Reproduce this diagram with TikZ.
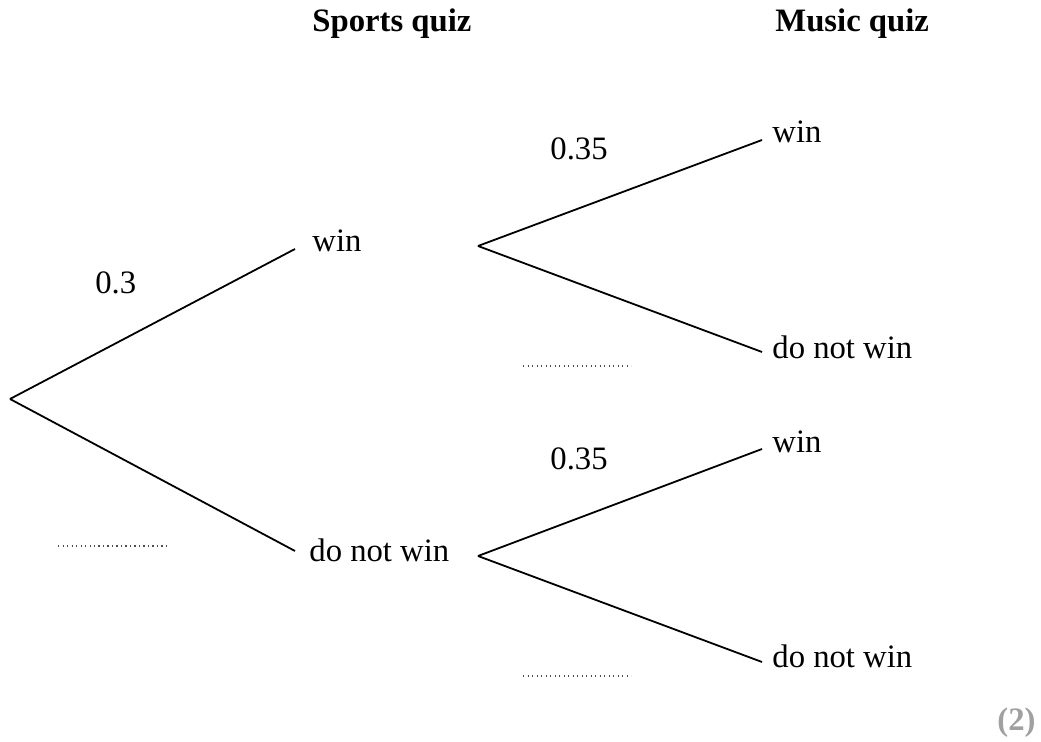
\documentclass[tikz,border=0pt]{standalone}
\usepackage{fontspec}
\setmainfont{Liberation Serif}
\usepackage{tikz}
\usetikzlibrary{positioning}
\definecolor{grey3}{HTML}{A0A0A0}
\tikzset{branchlbl/.style={font=\fontsize{16.35}{19}\selectfont,inner sep=0pt,anchor=base west}}
\tikzset{quizhead/.style={branchlbl,font=\fontsize{16.35}{19}\selectfont\bfseries}}
\tikzset{answerdots/.style={line width=0.6pt,dash pattern=on 0.6pt off 1.65pt,black!70}}

\begin{document}
\begin{tikzpicture}[x=0.5pt,y=-0.5pt]
        \useasboundingbox (0,0) rectangle (1041,742);

        \node[quizhead] (h_sport) at (312,32) {Sports quiz};
        \node[quizhead] (h_music) at (775,32) {Music quiz};

        % branch points
        \coordinate (root) at (10,399);
        \coordinate (s_win) at (295,249);
        \coordinate (s_lose) at (295,551);
        \coordinate (m_top) at (478,246);
        \coordinate (m_bot) at (478,556);
        \coordinate (m_ww) at (762,140);
        \coordinate (m_wl) at (762,352);
        \coordinate (m_lw) at (762,449);
        \coordinate (m_ll) at (762,662);

        \node[branchlbl] (win_s) at (312,252) {win};
        \node[branchlbl] (lose_s) at (309,562) {do not win};
        \node[branchlbl] (win_ww) at (772,143) {win};
        \node[branchlbl] (lose_wl) at (772,359) {do not win};
        \node[branchlbl] (win_lw) at (772,453) {win};
        \node[branchlbl] (lose_ll) at (772,668) {do not win};

        \node[branchlbl] (p_s) at (95,294) {0.3};
        \node[branchlbl] (p_ww) at (550,160) {0.35};
        \node[branchlbl] (p_lw) at (550,470) {0.35};

        \draw[line width=0.9pt] (root) to (s_win);
        \draw[line width=0.9pt] (root) to (s_lose);
        \draw[line width=0.9pt] (m_top) to (m_ww);
        \draw[line width=0.9pt] (m_top) to (m_wl);
        \draw[line width=0.9pt] (m_bot) to (m_lw);
        \draw[line width=0.9pt] (m_bot) to (m_ll);

        % spaces for the missing probabilities
        \draw[answerdots] (58,546) -- (167,546);
        \draw[answerdots] (523,366) -- (631,366);
        \draw[answerdots] (523,676) -- (631,676);

        \node[quizhead,text=grey3,anchor=base east] (marks) at (1036,731) {(2)};
    \end{tikzpicture}
\end{document}
